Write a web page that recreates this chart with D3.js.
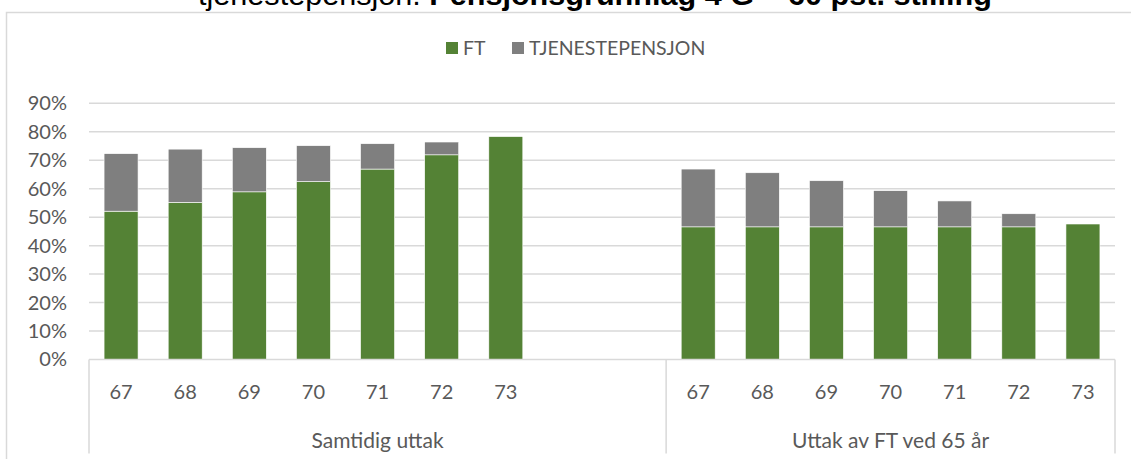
<!DOCTYPE html>
<html>
<head>
<meta charset="utf-8">
<script src="https://cdn.jsdelivr.net/npm/d3@7"></script>
<style>
  body { margin: 0; background: #fff; }
  svg text { font-family: Lato, "Open Sans", sans-serif; }
</style>
</head>
<body>
<div id="chart"></div>
<script>
// data (percent)
var ages = ["67", "68", "69", "70", "71", "72", "73"];
var groups = ["Samtidig uttak", "Uttak av FT ved 65 år"];
var seriesNames = ["FT", "TJENESTEPENSJON"];
var ftSamtidig = [52.1, 55.2, 58.9, 62.5, 66.9, 71.9, 78.3];
var tpSamtidig = [20.2, 18.7, 15.5, 12.6, 8.9, 4.5, 0];
var ftUttak65 = [46.6, 46.6, 46.6, 46.6, 46.6, 46.6, 47.6];
var tpUttak65 = [20.3, 19.0, 16.2, 12.7, 9.1, 4.6, 0];
var yTicks = [0, 10, 20, 30, 40, 50, 60, 70, 80, 90];

var colors = {"FT": "#548235", "TJENESTEPENSJON": "#7f7f7f"};

var W = 1131, H = 459;
var margin = {top: 103.3, right: 16, bottom: 99.5, left: 89};
var width = W - margin.left - margin.right,
    height = H - margin.top - margin.bottom;

var svg = d3.select("#chart")
    .append("svg")
    .attr("width", W)
    .attr("height", H);

// outer chart frame
svg.append("rect")
    .attr("x", 6.5).attr("y", 12.5)
    .attr("width", W + 20).attr("height", H + 20)
    .attr("fill", "none")
    .attr("stroke", "#d9d9d9")
    .attr("stroke-width", 1.5);

// cut-off title at the very top
svg.append("text")
    .attr("x", 198).attr("y", 5)
    .attr("textLength", 794)
    .attr("lengthAdjust", "spacingAndGlyphs")
    .style("font-family", "'Liberation Sans', Arial, sans-serif")
    .style("font-size", "29px")
    .attr("fill", "#000")
    .call(function(t) {
        t.append("tspan").text("tjenestepensjon. ");
        t.append("tspan").attr("font-weight", "bold").text("Pensjonsgrunnlag 4 G – 60 pst. stilling");
    });

// build the flat rows; left group has two empty slots like in the Excel chart
var rows = [];
ages.forEach(function(a, i) {
    rows.push({key: "S" + a, age: a, ft: ftSamtidig[i], tp: tpSamtidig[i]});
});
rows.push({key: "S_e1", age: "", ft: null, tp: null});
rows.push({key: "S_e2", age: "", ft: null, tp: null});
ages.forEach(function(a, i) {
    rows.push({key: "U" + a, age: a, ft: ftUttak65[i], tp: tpUttak65[i]});
});

var g = svg.append("g")
    .attr("transform", "translate(" + margin.left + "," + margin.top + ")");

var x = d3.scaleBand()
    .domain(rows.map(function(d) { return d.key; }))
    .range([0, width])
    .paddingInner(0.47)
    .paddingOuter(0.235);

var y = d3.scaleLinear()
    .domain([0, 90])
    .range([height, 0]);

// gridlines
g.selectAll(".grid")
    .data(yTicks.slice(1))
    .enter()
    .append("line")
    .attr("x1", 0).attr("x2", width)
    .attr("y1", function(d) { return y(d); })
    .attr("y2", function(d) { return y(d); })
    .attr("stroke", "#d9d9d9")
    .attr("stroke-width", 1.5);

// y axis labels
g.selectAll(".ylab")
    .data(yTicks)
    .enter()
    .append("text")
    .attr("x", -22)
    .attr("y", function(d) { return y(d); })
    .attr("dy", "0.35em")
    .attr("text-anchor", "end")
    .attr("fill", "#595959")
    .style("font-size", "20px")
    .text(function(d) { return d + "%"; });

// stacked bars
var stack = d3.stack().keys(["ft", "tp"]);
var stacked = stack(rows.filter(function(d) { return d.ft !== null; }));

g.selectAll(".layer")
    .data(stacked)
    .enter()
    .append("g")
    .attr("fill", function(d, i) { return colors[seriesNames[i]]; })
    .selectAll("rect")
    .data(function(d) { return d.filter(function(v) { return v[1] - v[0] > 0; }); })
    .enter()
    .append("rect")
    .attr("x", function(d) { return x(d.data.key); })
    .attr("y", function(d) { return y(d[1]); })
    .attr("width", x.bandwidth())
    .attr("height", function(d) { return y(d[0]) - y(d[1]); })
    .attr("stroke", "#fff")
    .attr("stroke-width", 0.6);

// category axis: baseline and group separators
var step = x.step();
var sepX = [0, x("S_e2") + x.bandwidth() + step * x.paddingInner() / 2, width];
g.append("line")
    .attr("x1", 0).attr("x2", width)
    .attr("y1", height).attr("y2", height)
    .attr("stroke", "#d9d9d9")
    .attr("stroke-width", 1.5);
g.selectAll(".sep")
    .data(sepX)
    .enter()
    .append("line")
    .attr("x1", function(d) { return d; })
    .attr("x2", function(d) { return d; })
    .attr("y1", height).attr("y2", height + 94)
    .attr("stroke", "#d9d9d9")
    .attr("stroke-width", 1.5);

// age labels
g.selectAll(".xlab")
    .data(rows.filter(function(d) { return d.age !== ""; }))
    .enter()
    .append("text")
    .attr("x", function(d) { return x(d.key) + x.bandwidth() / 2; })
    .attr("y", height + 33)
    .attr("dy", "0.35em")
    .attr("text-anchor", "middle")
    .attr("fill", "#595959")
    .style("font-size", "20px")
    .text(function(d) { return d.age; });

// group labels
g.selectAll(".glab")
    .data(groups)
    .enter()
    .append("text")
    .attr("x", function(d, i) { return (sepX[i] + sepX[i + 1]) / 2; })
    .attr("y", height + 81)
    .attr("dy", "0.35em")
    .attr("text-anchor", "middle")
    .attr("fill", "#595959")
    .style("font-size", "21px")
    .text(function(d) { return d; });

// legend
var legend = svg.append("g").attr("transform", "translate(446,48)");
var legX = [0, 66];
seriesNames.forEach(function(name, i) {
    legend.append("rect")
        .attr("x", legX[i]).attr("y", -6)
        .attr("width", 12).attr("height", 12)
        .attr("fill", colors[name]);
    legend.append("text")
        .attr("x", legX[i] + 17).attr("y", 0)
        .attr("dy", "0.35em")
        .attr("fill", "#595959")
        .style("font-size", "19.5px")
        .text(name);
});
</script>
</body>
</html>
